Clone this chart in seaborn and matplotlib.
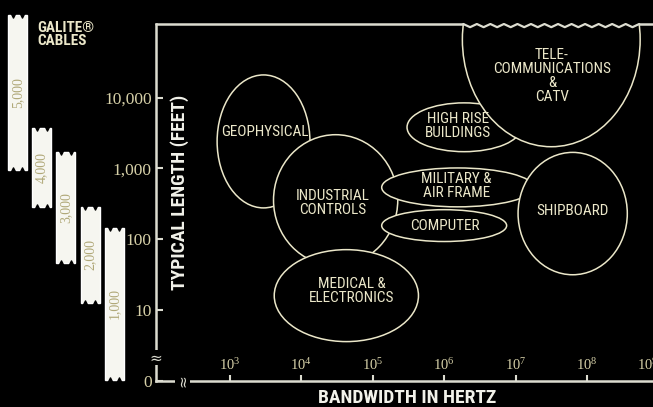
import numpy as np
import matplotlib
matplotlib.use('Agg')
import matplotlib.pyplot as plt
from matplotlib.patches import Ellipse
import seaborn as sns

# Market areas, in decades: log10(bandwidth Hz) and log10(length ft)
markets = ['GEOPHYSICAL', 'INDUSTRIAL\nCONTROLS', 'MEDICAL &\nELECTRONICS',
           'MILITARY &\nAIR FRAME', 'COMPUTER', 'SHIPBOARD',
           'HIGH RISE\nBUILDINGS', 'TELE-\nCOMMUNICATIONS\n&\nCATV']
bw_center = [3.47, 4.48, 4.63, 6.19, 6.00, 7.80, 6.28, 7.50]
len_center = [3.38, 2.55, 1.20, 2.73, 2.19, 2.36, 3.58, 4.82]
bw_span = [1.30, 1.74, 2.02, 2.13, 1.75, 1.53, 1.60, 2.49]
len_span = [1.88, 1.85, 1.30, 0.55, 0.45, 1.73, 0.69, 3.03]
label_bw = [3.49, 4.44, 4.71, 6.17, 6.01, 7.80, 6.19, 7.51]
label_len = [3.51, 2.51, 1.27, 2.75, 2.19, 2.39, 3.60, 4.31]
draw_order = [7, 0, 5, 1, 6, 2, 3, 4]

# Galite cable strips (log10 ft)
cable_sizes = ['5,000', '4,000', '3,000', '2,000', '1,000']
cable_top = [5.17, 3.57, 3.23, 2.45, 2.16]
cable_bottom = [2.98, 2.45, 1.66, 1.10, 0.01]

len_ticks = [0, 1, 2, 3, 4]
len_labels = ['0', '10', '100', '1,000', '10,000']
bw_ticks = [3, 4, 5, 6, 7, 8, 9]
bw_labels = [r'$\mathregular{10^{%d}}$' % t for t in bw_ticks]

cream = '#ebe7c9'
line_col = '#dcdcd0'
narrow = ['Roboto Condensed', 'Roboto', 'DejaVu Sans']
serif = ['Liberation Serif', 'DejaVu Serif']

sns.set_theme(style='dark', rc={'axes.facecolor': 'black', 'figure.facecolor': 'black',
                                'axes.edgecolor': line_col, 'axes.linewidth': 1.8,
                                'axes.grid': False})
plt.rcParams['font.family'] = narrow

fig = plt.figure(figsize=(6.53, 4.07), dpi=100)
ax = fig.add_axes([156 / 653, 26 / 407, 509 / 653, 357 / 407])
ax.set_xlim(1.964, 9.093)
ax.set_ylim(-0.007, 5.04)

# ellipses
for i in draw_order:
    ax.add_patch(Ellipse((bw_center[i], len_center[i]), bw_span[i], len_span[i],
                         facecolor='black', edgecolor=cream, lw=1.1, zorder=2 + i * 0.01))
for i in range(len(markets)):
    ax.text(label_bw[i], label_len[i], markets[i], ha='center', va='center',
            color=cream, fontsize=11, linespacing=1.0, zorder=4)

# top border with torn edge over telecommunications
top = ax.get_ylim()[1]
k = 7
dy = (top - len_center[k]) / (len_span[k] / 2)
half = bw_span[k] / 2 * np.sqrt(1 - dy ** 2)
zx = np.linspace(bw_center[k] - half, bw_center[k] + half, 27)
zy = top - 0.045 * (np.arange(len(zx)) % 2)
ax.plot(zx, zy, color=line_col, lw=1.6, clip_on=False, zorder=5)
ax.plot([ax.get_xlim()[0], zx[0]], [top, top], color=line_col, lw=1.8, clip_on=False, zorder=5)
ax.plot([zx[-1], ax.get_xlim()[1]], [top, top], color=line_col, lw=1.8, clip_on=False, zorder=5)
ax.spines['top'].set_visible(False)
ax.spines['right'].set_visible(False)

# axis breaks
ax.text(ax.get_xlim()[0], 0.32, '≈', ha='center', va='center', color=line_col,
        fontsize=11, family='DejaVu Sans', clip_on=False, zorder=6,
        bbox=dict(facecolor='black', edgecolor='none', pad=0))
ax.text(2.34, 0, '≈', ha='center', va='center', color=line_col, rotation=90,
        fontsize=11, family='DejaVu Sans', clip_on=False, zorder=6,
        bbox=dict(facecolor='black', edgecolor='none', pad=0))

ax.set_yticks(len_ticks, len_labels, family=serif, fontsize=12.5, color='#d6d0a8')
ax.set_xticks(bw_ticks, bw_labels, family=serif, fontsize=10.5, color='#d6d0a8')
ax.get_xticklabels()[-1].set_ha('right')
ax.tick_params(axis='y', direction='in', length=5, width=1.5, color=line_col, pad=3, left=True)
ax.tick_params(axis='x', direction='in', length=4, width=1.5, color=line_col, pad=-17, bottom=True)

ax.set_ylabel('TYPICAL LENGTH (FEET)', fontsize=14, fontweight='bold', color='#f2f2ea')
ax.yaxis.set_label_coords(0.064, 0.527)
ax.set_xlabel('BANDWIDTH IN HERTZ', fontsize=14, fontweight='bold', color='#f2f2ea')
ax.xaxis.set_label_coords(0.493, -0.022)

# cable strips
axs = fig.add_axes([0, 26 / 407, 133 / 653, 357 / 407], zorder=-1)
axs.set_xlim(-0.723, 4.77)
axs.set_ylim(ax.get_ylim())
axs.axis('off')
pos = np.arange(len(cable_sizes))
heights = np.array(cable_top) - np.array(cable_bottom)
axs.bar(pos, heights, bottom=cable_bottom, width=0.785, color='#f6f6f0', clip_on=False)
for dx in (-0.2, 0.2):
    axs.scatter(pos + dx, cable_top, marker='v', s=14, color='black', clip_on=False, zorder=3)
    axs.scatter(pos + dx, cable_bottom, marker='^', s=14, color='black', clip_on=False, zorder=3)
for p, lo, hi, lab in zip(pos, cable_bottom, cable_top, cable_sizes):
    axs.text(p, (lo + hi) / 2, lab, rotation=90, ha='center', va='center',
             family=serif, fontsize=10, color='#b0a878')

fig.text(37 / 653, 1 - 21 / 407, 'GALITE®\nCABLES', ha='left', va='top', fontsize=11,
         fontweight='bold', color=cream, linespacing=0.95)

fig.savefig('out.png', dpi=100, facecolor='black')
